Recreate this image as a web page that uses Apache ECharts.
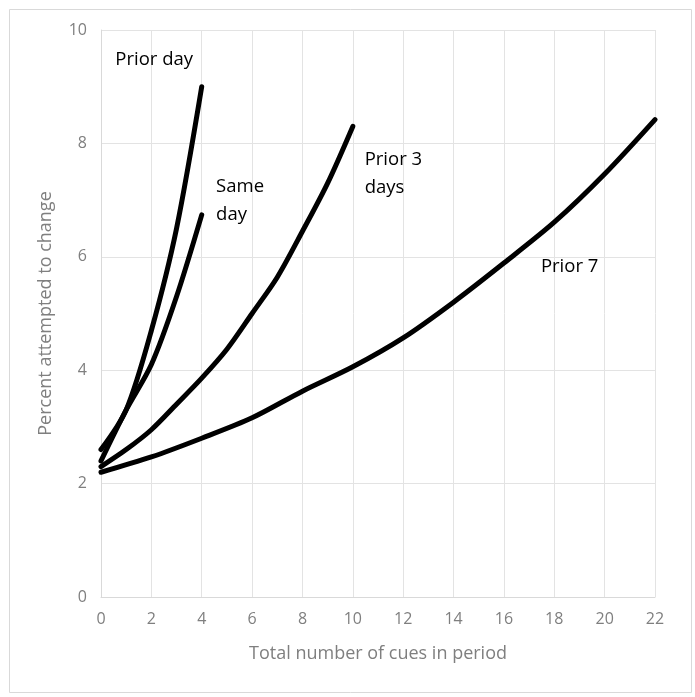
<!DOCTYPE html>
<html>
<head>
<meta charset="utf-8">
<script src="https://cdn.jsdelivr.net/npm/echarts@6/dist/echarts.min.js"></script>
<style>
  html, body { margin: 0; padding: 0; background: #fff; }
  #chart { width: 695px; height: 697px; }
</style>
</head>
<body>
<div id="chart"></div>
<script>
// values
const priorDayX = [0, 1, 2, 3, 4];
const priorDayY = [2.6, 3.3, 4.7, 6.5, 9.0];
const sameDayX = [0, 1, 2, 3, 4];
const sameDayY = [2.4, 3.3, 4.1, 5.3, 6.74];
const prior3X = [0, 1, 2, 3, 4, 5, 6, 7, 8, 9, 10];
const prior3Y = [2.3, 2.6, 2.95, 3.4, 3.86, 4.37, 5.0, 5.64, 6.45, 7.3, 8.3];
const prior7X = [0, 2, 4, 6, 8, 10, 12, 14, 16, 18, 20, 22];
const prior7Y = [2.2, 2.47, 2.8, 3.16, 3.63, 4.06, 4.57, 5.2, 5.89, 6.61, 7.46, 8.42];

// label anchors (data coords)
const labels = [
  { text: "Prior day", at: [0.55, 9.47] },
  { text: "Same\nday", at: [4.55, 6.98] },
  { text: "Prior 3\ndays", at: [10.45, 7.46] },
  { text: "Prior 7", at: [17.45, 5.82] }
];

const zip = (xs, ys) => xs.map((x, i) => [x, ys[i]]);

const lineSeries = (name, xs, ys, lab) => ({
  name: name,
  type: "line",
  data: zip(xs, ys),
  smooth: 0.3,
  symbol: "none",
  lineStyle: { color: "#000", width: 5, cap: "round" },
  markPoint: {
    symbol: "circle",
    symbolSize: 1,
    silent: true,
    itemStyle: { color: "rgba(0,0,0,0)" },
    data: [{
      coord: lab.at,
      label: {
        show: true,
        formatter: lab.text,
        position: "right",
        distance: 0,
        color: "#000",
        fontSize: 18.5,
        lineHeight: 28,
        fontFamily: "Open Sans"
      }
    }]
  }
});

const chart = echarts.init(document.getElementById("chart"));
chart.setOption({
  animation: false,
  backgroundColor: "#fff",
  graphic: [{
    type: "rect",
    left: 7, top: 7,
    shape: { width: 682, height: 683 },
    style: { fill: "none", stroke: "#d9d9d9", lineWidth: 1 }
  }],
  grid: { left: 101, right: 40, top: 30, bottom: 100 },
  xAxis: {
    type: "value",
    min: 0, max: 22, interval: 2,
    name: "Total number of cues in period",
    nameLocation: "middle",
    nameGap: 48,
    nameTextStyle: { color: "#7f7f7f", fontSize: 18, fontFamily: "Open Sans" },
    axisLine: { show: true, lineStyle: { color: "#d9d9d9" } },
    axisTick: { show: false },
    axisLabel: { color: "#7f7f7f", fontSize: 16, margin: 14, fontFamily: "Open Sans" },
    splitLine: { show: true, lineStyle: { color: "#e3e3e3" } }
  },
  yAxis: {
    type: "value",
    min: 0, max: 10, interval: 2,
    name: "Percent attempted to change",
    nameLocation: "middle",
    nameGap: 46,
    nameTextStyle: { color: "#7f7f7f", fontSize: 18, fontFamily: "Open Sans" },
    axisLine: { show: true, lineStyle: { color: "#d9d9d9" } },
    axisTick: { show: false },
    axisLabel: { color: "#7f7f7f", fontSize: 16, margin: 14, fontFamily: "Open Sans" },
    splitLine: { show: true, lineStyle: { color: "#e3e3e3" } }
  },
  series: [
    lineSeries("Prior day", priorDayX, priorDayY, labels[0]),
    lineSeries("Same day", sameDayX, sameDayY, labels[1]),
    lineSeries("Prior 3 days", prior3X, prior3Y, labels[2]),
    lineSeries("Prior 7", prior7X, prior7Y, labels[3])
  ]
});
</script>
</body>
</html>
